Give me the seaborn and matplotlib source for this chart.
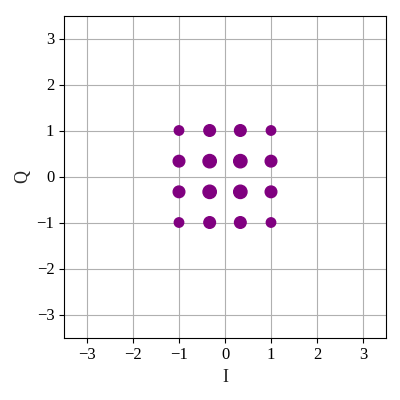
import seaborn as sns
import matplotlib.pyplot as plt
import pandas as pd

# 16-QAM constellation, sizes ~ symbol probability
i_vals = [-1, -1/3, 1/3, 1, -1, -1/3, 1/3, 1, -1, -1/3, 1/3, 1, -1, -1/3, 1/3, 1]
q_vals = [1, 1, 1, 1, 1/3, 1/3, 1/3, 1/3, -1/3, -1/3, -1/3, -1/3, -1, -1, -1, -1]
prob = [0.04, 0.07, 0.07, 0.04,
        0.07, 0.10, 0.10, 0.07,
        0.07, 0.10, 0.10, 0.07,
        0.04, 0.07, 0.07, 0.04]

df = pd.DataFrame({'I': i_vals, 'Q': q_vals, 'p': prob})

sns.set_style("ticks")
plt.rcParams['font.family'] = ['Liberation Serif', 'DejaVu Serif']
plt.rcParams['mathtext.fontset'] = 'stix'

fig = plt.figure(figsize=(4, 4), dpi=100)
ax = fig.add_axes([0.16, 0.155, 0.805, 0.8075])
sns.scatterplot(data=df, x='I', y='Q', size='p', sizes={0.04: 46, 0.07: 70, 0.10: 92},
                color='purple', edgecolor='purple', linewidth=1, legend=False, ax=ax, zorder=3)
ax.set_xlim(-3.5, 3.5)
ax.set_ylim(-3.5, 3.5)
ax.set_xticks(range(-3, 4))
ax.set_yticks(range(-3, 4))
ax.set_aspect('equal')
ax.grid(True, color='#b0b0b0', linewidth=0.8)
ax.set_axisbelow(True)
for s in ax.spines.values():
    s.set_visible(True)
    s.set_color('black')
    s.set_linewidth(0.8)
ax.tick_params(labelsize=12, colors='black', length=3.5, width=0.8)
ax.set_xlabel("I", fontsize=13)
ax.set_ylabel("Q", fontsize=13)
fig.savefig("out.png", dpi=100)
